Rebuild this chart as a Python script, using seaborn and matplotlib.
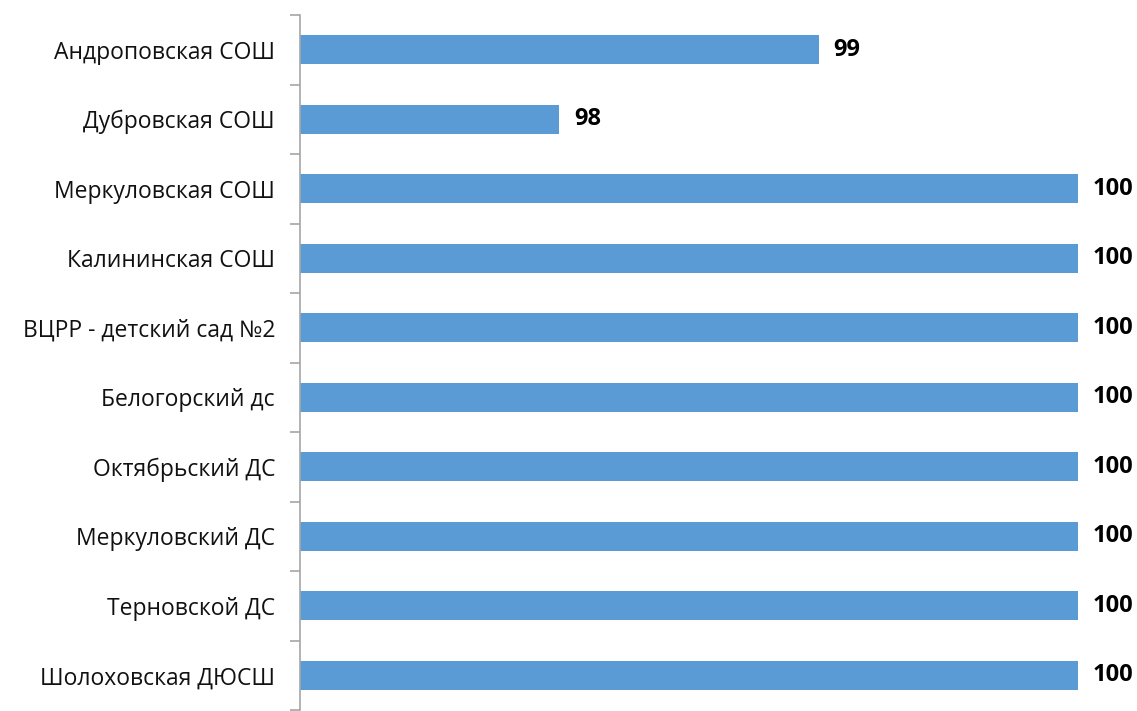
import numpy as np
import pandas as pd
import seaborn as sns
import matplotlib.pyplot as plt
from matplotlib.ticker import FixedLocator

# Chart values
schools = ['Андроповская СОШ', 'Дубровская СОШ', 'Меркуловская СОШ', 'Калининская СОШ',
           'ВЦРР - детский сад №2', 'Белогорский дс', 'Октябрьский ДС', 'Меркуловский ДС',
           'Терновской ДС', 'Шолоховская ДЮСШ']
values = [99, 98, 100, 100, 100, 100, 100, 100, 100, 100]

df = pd.DataFrame({'school': schools, 'value': values})

sns.set_style('white')
plt.rcParams['font.family'] = ['Open Sans', 'DejaVu Sans']

fig = plt.figure(figsize=(11.37, 7.11), dpi=100)
ax = fig.add_axes([0.2639, 0.0014, 0.6843, 0.9775])

sns.barplot(data=df, y='school', x='value', orient='h', color='#5B9BD5',
            width=0.42, saturation=1, linewidth=0, ax=ax)

ax.set_xlim(97, 100)
ax.set_ylim(len(schools) - 0.5, -0.5)

# value labels
for i, v in enumerate(values):
    ax.annotate(f'{v}', xy=(v, i), xytext=(10.5, 0), textcoords='offset points',
                va='center', ha='left', fontsize=17, fontweight='bold', color='black')

for s in ['top', 'right', 'bottom']:
    ax.spines[s].set_visible(False)
ax.spines['left'].set_color('#A6A6A6')
ax.spines['left'].set_linewidth(1.2)

ax.set_xticks([])
ax.set_xlabel('')
ax.set_ylabel('')
ax.tick_params(axis='y', which='major', left=False, length=0, labelsize=16.5, pad=18,
               labelcolor='#111111')
ax.yaxis.set_minor_locator(FixedLocator(np.arange(-0.5, len(schools), 1)))
ax.tick_params(axis='y', which='minor', left=True, length=7, color='#A6A6A6', width=1.2)

fig.savefig('out.png', dpi=100)
